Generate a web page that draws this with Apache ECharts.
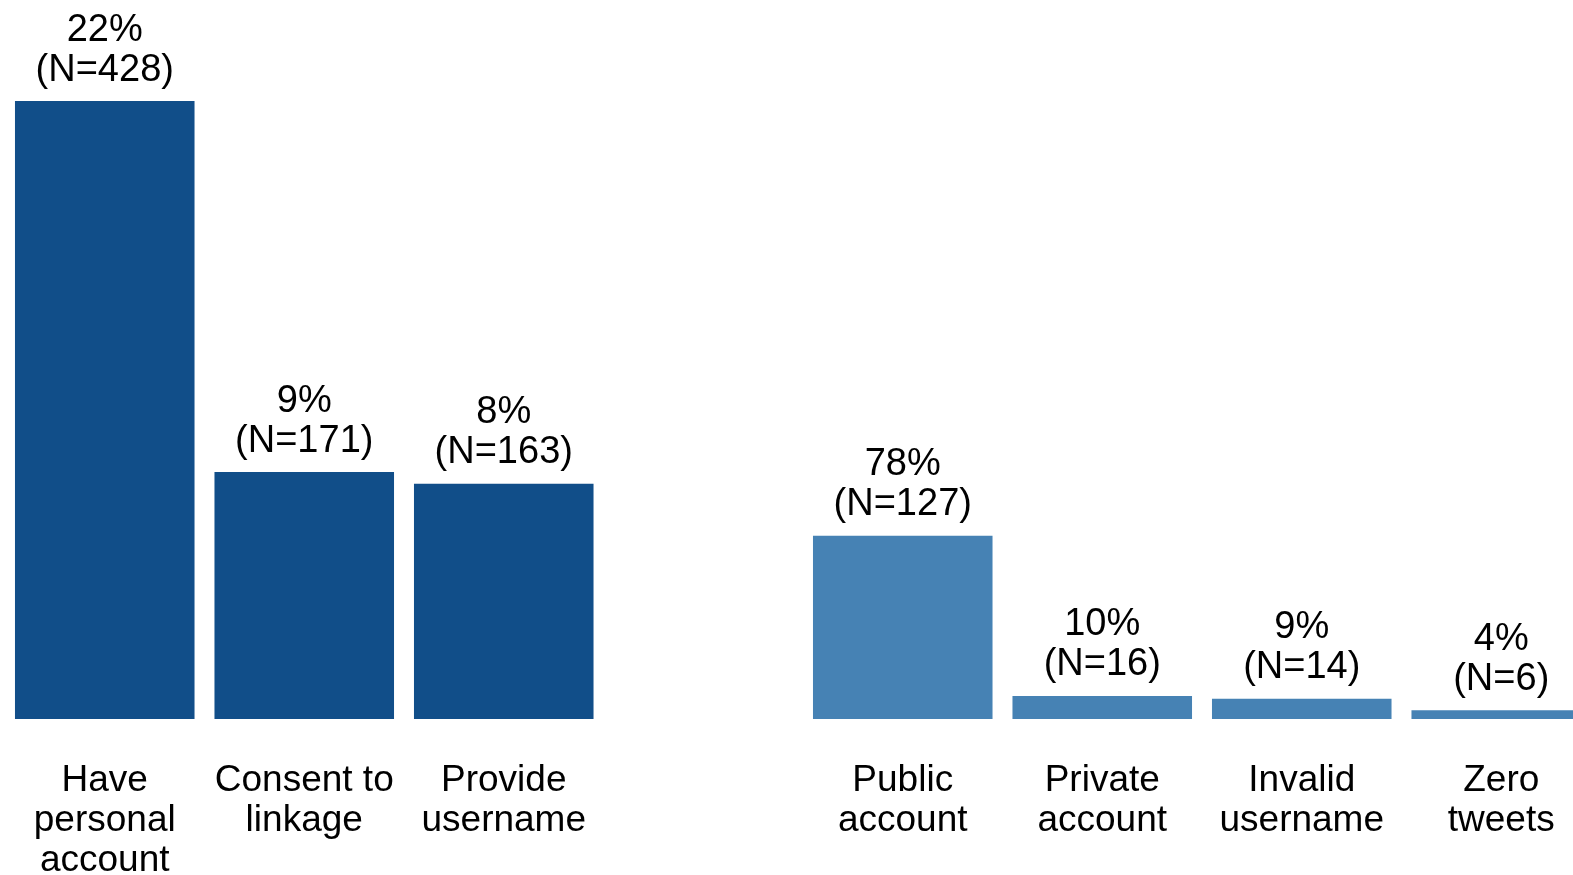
<!DOCTYPE html>
<html>
<head>
<meta charset="utf-8">
<script src="https://cdn.jsdelivr.net/npm/echarts@6/dist/echarts.min.js"></script>
<style>
  html, body { margin: 0; padding: 0; background: #fff; }
  #chart { width: 1573px; height: 875px; }
</style>
</head>
<body>
<div id="chart"></div>
<script>
// categories (the empty one is the gap between the two groups)
const categories = [
  'Have\npersonal\naccount',
  'Consent to\nlinkage',
  'Provide\nusername',
  '',
  'Public\naccount',
  'Private\naccount',
  'Invalid\nusername',
  'Zero\ntweets'
]
const counts = [428, 171, 163, null, 127, 16, 14, 6]
const percents = [22, 9, 8, null, 78, 10, 9, 4]
const groupOf = ['survey', 'survey', 'survey', null, 'check', 'check', 'check', 'check']

const colors = { survey: '#114E89', check: '#4682B4' }
const fontFamily = '"Liberation Sans", Arial, sans-serif'

const chart = echarts.init(document.getElementById('chart'))

chart.setOption({
  animation: false,
  // last bar runs off the right edge, so the grid is wider than the page
  grid: {
    top: 26,
    left: 5,
    width: 1596,
    bottom: 156,
    outerBoundsMode: 'none'
  },
  xAxis: {
    type: 'category',
    data: categories,
    axisLine: { show: false },
    axisTick: { show: false },
    axisLabel: {
      interval: 0,
      margin: 42,
      color: '#000',
      fontSize: 37,
      lineHeight: 40,
      fontFamily
    }
  },
  yAxis: {
    type: 'value',
    min: 0,
    max: 480,
    show: false,
    splitLine: { show: false }
  },
  series: [{
    type: 'bar',
    barCategoryGap: '10%',
    data: counts.map((v, i) => v == null ? '-' : {
      value: v,
      itemStyle: { color: colors[groupOf[i]] }
    }),
    label: {
      show: true,
      position: 'top',
      distance: 11,
      color: '#000',
      fontSize: 38,
      lineHeight: 40,
      fontFamily,
      formatter: p => percents[p.dataIndex] + '%\n(N=' + counts[p.dataIndex] + ')'
    }
  }]
})
</script>
</body>
</html>
